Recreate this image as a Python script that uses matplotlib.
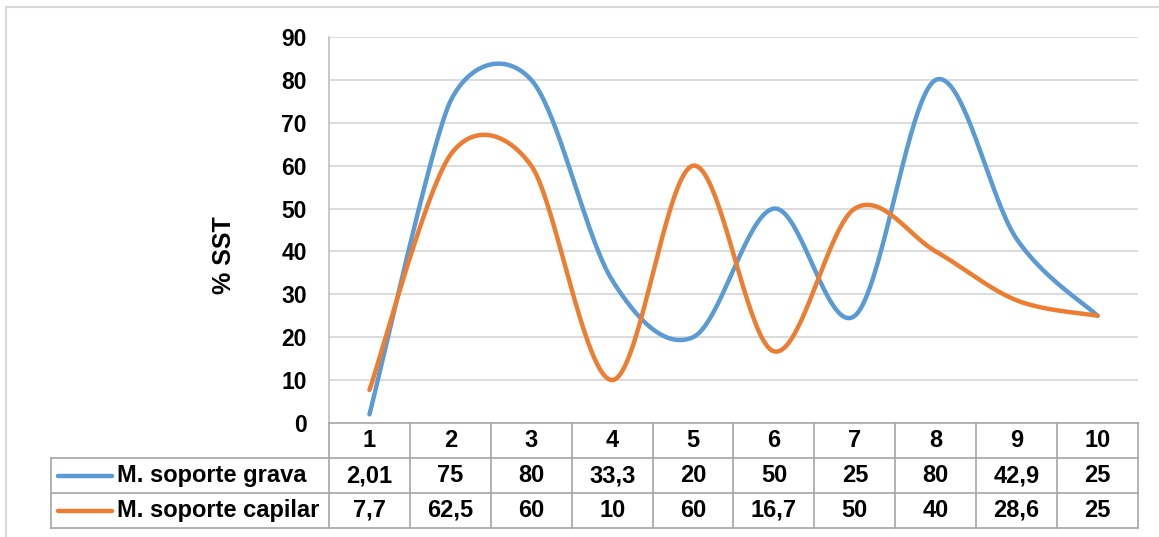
import matplotlib
matplotlib.use("Agg")
import matplotlib.pyplot as plt
import numpy as np
from matplotlib.patches import Rectangle

plt.rcParams["font.family"] = ["Liberation Sans", "DejaVu Sans"]
plt.rcParams["font.weight"] = "bold"

categories = [1, 2, 3, 4, 5, 6, 7, 8, 9, 10]
grava = [2.01, 75, 80, 33.3, 20, 50, 25, 80, 42.9, 25]
capilar = [7.7, 62.5, 60, 10, 60, 16.7, 50, 40, 28.6, 25]
series_names = ["M. soporte grava", "M. soporte capilar"]
series_colors = ["#5B9BD5", "#ED7D31"]
y_ticks = [0, 10, 20, 30, 40, 50, 60, 70, 80, 90]

W, H = 1159, 537
GRID = "#d9d9d9"
EDGE = "#a6a6a6"


def fx(px):
    return px / W


def fy(py):
    return 1 - py / H


def smooth(ax, xs, ys, steps=40):
    # Excel-like smoothed line, worked out in screen pixels so the
    # control arms can be capped to half the neighbouring segment
    data = np.column_stack([xs, ys]).astype(float)
    p = ax.transData.transform(data)
    n = len(p)
    arms = []
    for i in range(n):
        prev = p[max(i - 1, 0)]
        nxt = p[min(i + 1, n - 1)]
        v = (nxt - prev) / 6
        lv = np.hypot(*v)
        d_prev = np.hypot(*(p[i] - prev))
        d_next = np.hypot(*(nxt - p[i]))
        lim = min(d_prev if i > 0 else d_next, d_next if i < n - 1 else d_prev) / 2
        if lv > lim > 0:
            v = v * lim / lv
        arms.append(v)
    t = np.linspace(0, 1, steps)[:, None]
    out = []
    for i in range(n - 1):
        p0, p3 = p[i], p[i + 1]
        c1 = p0 + arms[i]
        c2 = p3 - arms[i + 1]
        seg = ((1 - t) ** 3) * p0 + 3 * ((1 - t) ** 2) * t * c1 + 3 * (1 - t) * t ** 2 * c2 + t ** 3 * p3
        out.append(seg if i == 0 else seg[1:])
    pts = ax.transData.inverted().transform(np.vstack(out))
    return pts[:, 0], pts[:, 1]


def fmt(v):
    return f"{v:g}".replace(".", ",")


fig = plt.figure(figsize=(W / 100, H / 100), dpi=100)

# outer chart border
fig.patches.append(Rectangle((fx(6), fy(560)), fx(1170 - 6), fy(7) - fy(560),
                             transform=fig.transFigure, fill=False,
                             edgecolor="#d9d9d9", linewidth=1.5))

left, right, top, bottom = 329, 1138, 37, 423
ax = fig.add_axes([fx(left), fy(bottom), fx(right - left), fy(top) - fy(bottom)])
ax.set_xlim(0.5, 10.5)
ax.set_ylim(0, 90)
ax.set_yticks(y_ticks)
ax.set_xticks([])
for t in y_ticks[1:]:
    ax.axhline(t, color=GRID, linewidth=1.3, zorder=0)
ax.spines["top"].set_visible(False)
ax.spines["right"].set_visible(False)
ax.spines["left"].set_color("#bfbfbf")
ax.spines["bottom"].set_color(EDGE)
ax.spines["left"].set_linewidth(1.2)
ax.spines["bottom"].set_linewidth(1.2)
ax.tick_params(axis="y", length=0, pad=16, labelsize=16.5)
for lab in ax.get_yticklabels():
    lab.set_fontweight("bold")

for vals, color in zip([grava, capilar], series_colors):
    sx, sy = smooth(ax, categories, vals)
    ax.plot(sx, sy, color=color, linewidth=3.2, solid_capstyle="round", zorder=3)

fig.text(fx(224), fy(255), "% SST", rotation=90, ha="center", va="center",
         fontsize=18, fontweight="bold")

# data table
tleft, tbottom = 51, 528
col_w = (right - left) / len(categories)
tax = fig.add_axes([fx(tleft), fy(tbottom), fx(right - tleft), fy(bottom) - fy(tbottom)])
x0 = 0.5 - (left - tleft) / col_w
tax.set_xlim(x0, 10.5)
tax.set_ylim(0, 3)
tax.axis("off")

lw = 1.2
tax.plot([x0, 10.5], [2, 2], color=EDGE, lw=lw, clip_on=False)
tax.plot([x0, 10.5], [1, 1], color=EDGE, lw=lw, clip_on=False)
tax.plot([x0, 10.5], [0, 0], color=EDGE, lw=lw, clip_on=False)
tax.plot([x0, x0], [0, 2], color=EDGE, lw=lw, clip_on=False)
for k in range(len(categories) + 1):
    tax.plot([0.5 + k, 0.5 + k], [0, 3], color=EDGE, lw=lw, clip_on=False)

for c in categories:
    tax.text(c, 2.5, str(c), ha="center", va="center", fontsize=17, fontweight="bold")

for r, (vals, name, color) in enumerate(zip([grava, capilar], series_names, series_colors)):
    yc = 1.5 - r
    for c, v in zip(categories, vals):
        tax.text(c, yc, fmt(v), ha="center", va="center", fontsize=17, fontweight="bold")
    kx0 = x0 + (58 - tleft) / col_w
    kx1 = x0 + (112 - tleft) / col_w
    tax.plot([kx0, kx1], [yc, yc], color=color, lw=3.2, solid_capstyle="round")
    tax.text(x0 + (117 - tleft) / col_w, yc, name, ha="left", va="center",
             fontsize=17, fontweight="bold")

fig.savefig("out.png", dpi=100)
